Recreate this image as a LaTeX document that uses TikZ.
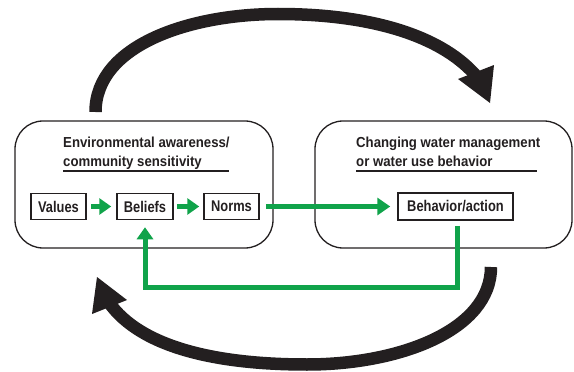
\documentclass[tikz,border=0pt]{standalone}
\usepackage{fontspec}
\setmainfont{Liberation Sans}
\newfontfamily\titlefont[FakeStretch=0.91]{Liberation Sans}
\newfontfamily\boxfont[FakeStretch=0.83]{Liberation Sans}
\usetikzlibrary{arrows.meta}
\definecolor{ink}{RGB}{35,31,32}
\definecolor{grn}{RGB}{16,163,74}
\begin{document}
\begin{tikzpicture}[x=1pt,y=-1pt,
 panel/.style={draw=ink,line width=1.3pt,rounded corners=28pt,inner sep=0pt},
 stagebox/.style={draw=ink,line width=1.5pt,minimum height=26pt,inner sep=0pt,font=\boxfont\bfseries\fontsize{15.5}{17}\selectfont,text=ink},
 titletext/.style={anchor=base west,font=\titlefont\bfseries\fontsize{14.5}{16}\selectfont,text=ink,inner sep=0pt},
 rule/.style={draw=ink,line width=1.2pt},
 garrow/.style={draw=grn,line width=5pt,-{Triangle[length=12pt,width=16pt]}},
 bigarc/.style={draw=ink,line width=12.5pt},
 arrowhead/.style={fill=ink},
]
\useasboundingbox (0,0) rectangle (574,372);

% panels
\node[panel,minimum width=258pt,minimum height=127pt] (left) at (144,184.5) {};
\node[panel,minimum width=257pt,minimum height=127pt] (right) at (443.5,184.5) {};

% titles
\node[titletext] (t1a) at (63,147) {Environmental awareness/};
\node[titletext] (t1b) at (63,166) {community sensitivity};
\draw[rule] (63,171) -- (229,171);
\node[titletext] (t2a) at (356,147) {Changing water management};
\node[titletext] (t2b) at (356,166) {or water use behavior};
\draw[rule] (356,171) -- (537,171);

% stage boxes
\node[stagebox,minimum width=55pt] (val) at (58.5,206.5) {Values};
\node[stagebox,minimum width=56pt] (bel) at (145,206.5) {Beliefs};
\node[stagebox,minimum width=55pt] (nor) at (231.5,206.5) {Norms};
\node[stagebox,minimum width=115pt,minimum height=27pt] (beh) at (455.5,206.5) {Behavior/action};

% green arrows
\draw[garrow] ([xshift=4pt]val.east) -- ([xshift=-5pt]bel.west);
\draw[garrow] ([xshift=3pt]bel.east) -- ([xshift=-4pt]nor.west);
\draw[garrow,-{Triangle[length=13pt,width=17pt]}] ([xshift=6pt]nor.east) -- ([xshift=-7pt]beh.west);
\draw[garrow,line join=miter] ([xshift=1.5pt,yshift=-5pt]beh.south) -- ++(0,62) -| ([yshift=-7pt]bel.south);

% big black cycle arcs
\draw[bigarc] (95.5,112) .. controls (95.5,45) and (190,14) .. (278,14)
  .. controls (380,14) and (450,40) .. (481,82);
\fill[arrowhead] (458,79) -- (494,65) -- (490,103) -- cycle;
\draw[bigarc] (491,267) .. controls (491,330) and (400,364.5) .. (307,364.5)
  .. controls (210,364.5) and (135,345) .. (106,298);
\fill[arrowhead] (97,277) -- (127,300) -- (92,314) -- cycle;
\end{tikzpicture}
\end{document}
